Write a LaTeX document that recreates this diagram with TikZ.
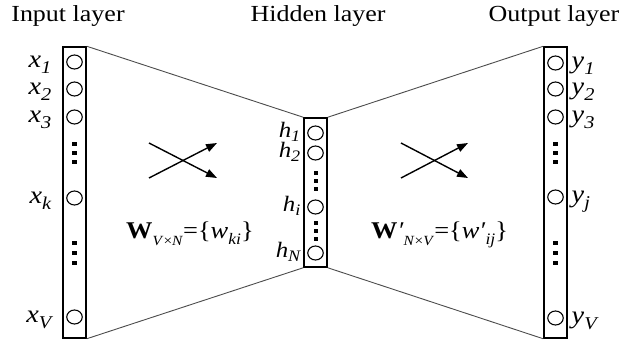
\documentclass[tikz,border=0pt]{standalone}
\usepackage{fontspec}
\setmainfont{Liberation Serif}
\usetikzlibrary{shapes.geometric,arrows.meta,positioning,calc}
\tikzset{
  layerbox/.style={draw,line width=1.5pt,minimum width=23pt,inner sep=0pt},
  neuron/.style={draw,ellipse,line width=1.1pt,minimum width=15.5pt,minimum height=14pt,inner sep=0pt},
  title/.style={font=\fontsize{23}{26}\selectfont,xscale=1.13,inner sep=0pt},
  lbl/.style={font=\fontsize{25}{27}\selectfont\itshape,xscale=1.13,inner sep=0pt},
  hlbl/.style={font=\fontsize{22}{24}\selectfont\itshape,xscale=1.13,inner sep=0pt},
  wlbl/.style={font=\fontsize{24}{26}\selectfont,xscale=1.1,inner sep=0pt},
  link/.style={gray!60!black,line width=0.9pt},
  cross/.style={-{Triangle[length=11pt,width=8pt]},line width=1.4pt},
}
\newcommand\nsub[2]{#1\raisebox{-6pt}{\fontsize{18}{18}\selectfont #2}}
\newcommand\hsub[2]{#1\raisebox{-4pt}{\fontsize{16}{16}\selectfont #2}}
\newcommand\wsub[1]{\raisebox{-7pt}{\fontsize{14}{14}\selectfont #1}}

\begin{document}
\begin{tikzpicture}[x=1pt,y=-1pt]
  \useasboundingbox (0,0) rectangle (629,343);

  %% -- Titles --
  \node[title] (tIn)  at (68,16)  {Input layer};
  \node[title] (tHid) at (318,16) {Hidden layer};
  \node[title] (tOut) at (554,16) {Output layer};

  %% -- Layer boxes --
  \node[layerbox,minimum height=291pt] (inL)  at (74.5,192.5)  {};
  \node[layerbox,minimum height=149pt] (hidL) at (315.5,192.5) {};
  \node[layerbox,minimum height=291pt] (outL) at (555.5,192.5) {};

  %% -- Connections between layers --
  \draw[link] (inL.north east) -- (hidL.north west);
  \draw[link] (inL.south east) -- (hidL.south west);
  \draw[link] (hidL.north east) -- (outL.north west);
  \draw[link] (hidL.south east) -- (outL.south west);

  %% -- Input neurons --
  \foreach \n/\y in {1/62,2/89,3/117,k/198,V/317}{
    \node[neuron] (x\n) at (74.5,\y) {};
    \node[lbl,anchor=base east] (lx\n) at ($(x\n)+(-23,5)$) {\nsub{x}{\n}};
  }
  \foreach \y in {144,153,162,243,253,263}
    \fill (72,\y-2) rectangle +(5,4);

  %% -- Hidden neurons --
  \foreach \n/\y in {1/133,2/153,i/207,N/253}{
    \node[neuron] (h\n) at (315.5,\y) {};
    \node[hlbl,anchor=base east] (lh\n) at ($(h\n)+(-15,4)$) {\hsub{h}{\n}};
  }
  \foreach \y in {173,181,189,223,231,239}
    \fill (313.5,\y-2) rectangle +(4,4);

  %% -- Output neurons --
  \foreach \n/\y in {1/63,2/89,3/117,j/197,V/318}{
    \node[neuron] (y\n) at (555.5,\y) {};
    \node[lbl,anchor=base west] (ly\n) at ($(y\n)+(16,5)$) {\nsub{y}{\n}};
  }
  \foreach \y in {144,153,162,243,253,263}
    \fill (553,\y-2) rectangle +(5,4);

  %% -- Crossing arrows --
  \coordinate (a1) at (149,143);
  \coordinate (a2) at (217,178);
  \coordinate (a3) at (149,178);
  \coordinate (a4) at (217,143);
  \draw[cross] (a1) -- (a2);
  \draw[cross] (a3) -- (a4);
  \coordinate (b1) at (401,143);
  \coordinate (b2) at (468,178);
  \coordinate (b3) at (401,178);
  \coordinate (b4) at (468,143);
  \draw[cross] (b1) -- (b2);
  \draw[cross] (b3) -- (b4);

  %% -- Weight matrices --
  \node[wlbl,anchor=base west] (wIn) at (126,238)
    {\textbf{W}\wsub{\textit{V}×\textit{N}}=\{\nsub{\textit{w}}{\fontsize{16}{16}\selectfont\textit{ki}}\}};
  \node[wlbl,anchor=base west] (wOut) at (371,238)
    {\textbf{W}\textit{′}\wsub{\textit{N}×\textit{V}}=\{\nsub{\textit{w′}}{\fontsize{16}{16}\selectfont\textit{ij}}\}};
\end{tikzpicture}
\end{document}
